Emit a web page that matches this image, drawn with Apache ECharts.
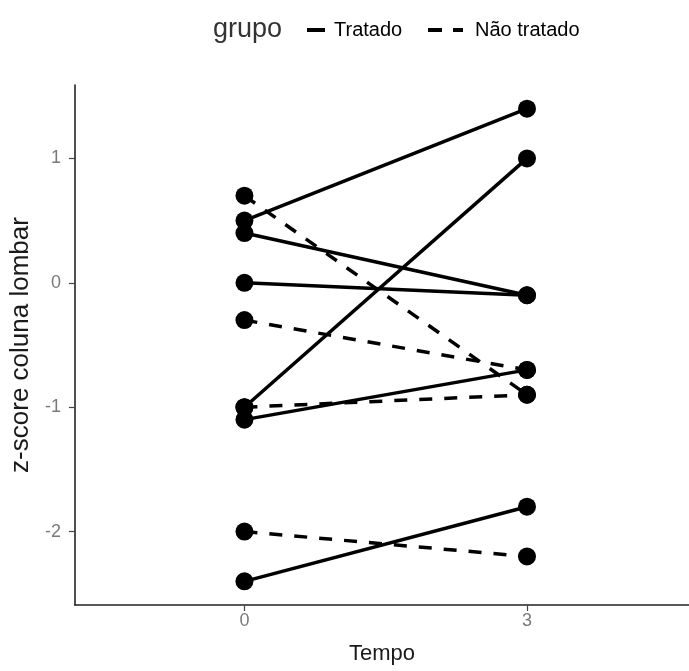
<!DOCTYPE html>
<html>
<head>
<meta charset="utf-8">
<script src="https://cdn.jsdelivr.net/npm/echarts@6/dist/echarts.min.js"></script>
<style>
html,body{margin:0;padding:0;background:#fff;}
#c{width:689px;height:671px;}
</style>
</head>
<body>
<div id="c"></div>
<script>
// ---- data ----
const tempos = [0, 3];
const grupos = ['Tratado', 'Não tratado'];
const tratadoT0 = [0.5, 0.4, 0, -1.0, -1.1, -2.4];
const tratadoT3 = [1.4, -0.1, -0.1, 1.0, -0.7, -1.8];
const naoTratadoT0 = [0.7, -0.3, -1.0, -2.0];
const naoTratadoT3 = [-0.9, -0.7, -0.9, -2.2];
const yTicks = [-2, -1, 0, 1];
const xTicks = [0, 3];

const regular = "'Liberation Sans', Arial, sans-serif";

function makeSeries(name, t0, t3, dashed) {
  return t0.map((v, i) => ({
    name: name,
    type: 'line',
    data: [[tempos[0], v], [tempos[1], t3[i]]],
    symbol: 'circle',
    symbolSize: 18,
    itemStyle: { color: '#000' },
    lineStyle: { color: '#000', width: 3.5, type: dashed ? [13, 12] : 'solid' },
    emphasis: { disabled: true },
    animation: false
  }));
}

const series = [].concat(
  makeSeries(grupos[0], tratadoT0, tratadoT3, false),
  makeSeries(grupos[1], naoTratadoT0, naoTratadoT3, true)
);

const chart = echarts.init(document.getElementById('c'), null, { renderer: 'canvas' });
chart.setOption({
  backgroundColor: '#fff',
  animation: false,
  title: {
    text: 'grupo',
    left: 208, top: 11,
    textStyle: { fontFamily: regular, fontSize: 27, fontWeight: 'normal', color: '#333' }
  },
  legend: [
    {
      data: [{ name: grupos[0], icon: 'rect' }],
      left: 302, top: 15,
      itemWidth: 18, itemHeight: 4,
      selectedMode: false,
      itemStyle: { color: '#000', borderWidth: 0 },
      textStyle: { fontFamily: regular, fontSize: 20, color: '#000', padding: [0, 0, 0, 4] }
    },
    {
      data: [{ name: grupos[1], icon: 'path://M0,0h14v4h-14z M25,0h10v4h-10z' }],
      left: 423, top: 15,
      itemWidth: 35, itemHeight: 4,
      selectedMode: false,
      itemStyle: { color: '#000', borderWidth: 0 },
      textStyle: { fontFamily: regular, fontSize: 20, color: '#000', padding: [0, 0, 0, 7] }
    }
  ],
  grid: { left: 72, right: 0, top: 85, bottom: 66, containLabel: false },
  xAxis: {
    type: 'value',
    min: -1.8, max: 4.72,
    name: 'Tempo',
    nameLocation: 'middle',
    nameGap: 38,
    nameTextStyle: { fontFamily: regular, fontSize: 22, color: '#1a1a1a' },
    axisLine: { show: true, onZero: false, lineStyle: { color: '#222', width: 1.6 } },
    axisTick: { show: true, length: 6, customValues: xTicks, lineStyle: { color: '#444', width: 1.2 } },
    axisLabel: { customValues: xTicks, margin: 7, fontFamily: regular, fontSize: 18, color: '#7a7a7a' },
    splitLine: { show: false }
  },
  yAxis: {
    type: 'value',
    min: -2.59, max: 1.59,
    name: 'z-score coluna lombar',
    nameLocation: 'middle',
    nameGap: 32,
    nameRotate: 90,
    nameTextStyle: { fontFamily: regular, fontSize: 26, color: '#1a1a1a' },
    axisLine: { show: true, onZero: false, lineStyle: { color: '#222', width: 1.6 } },
    axisTick: { show: true, length: 6, customValues: yTicks, lineStyle: { color: '#444', width: 1.2 } },
    axisLabel: { customValues: yTicks, margin: 14, fontFamily: regular, fontSize: 18, color: '#7a7a7a' },
    splitLine: { show: false }
  },
  series: series
});
</script>
</body>
</html>
